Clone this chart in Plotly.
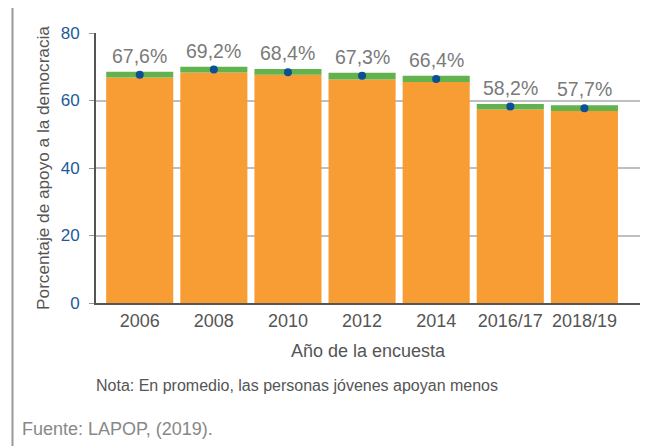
import plotly.graph_objects as go

years = ["2006", "2008", "2010", "2012", "2014", "2016/17", "2018/19"]
mean_vals = [67.6, 69.2, 68.4, 67.3, 66.4, 58.2, 57.7]
ci_low = [66.8, 68.3, 67.6, 66.2, 65.5, 57.3, 56.9]
ci_high = [68.5, 70.0, 69.3, 68.2, 67.3, 59.0, 58.6]
labels = ["67,6%", "69,2%", "68,4%", "67,3%", "66,4%", "58,2%", "57,7%"]
y_ticks = [0, 20, 40, 60, 80]

FONT = "Liberation Sans, Arial, sans-serif"

fig = go.Figure()

# orange bar up to lower CI
fig.add_trace(go.Bar(x=years, y=ci_low, marker=dict(color="#F79D34", line_width=0),
                     hoverinfo="skip"))
# green band for the interval
fig.add_trace(go.Bar(x=years, y=[h - l for h, l in zip(ci_high, ci_low)], base=ci_low,
                     marker=dict(color="#62B24D", line_width=0), hoverinfo="skip"))
# mean dots
fig.add_trace(go.Scatter(x=years, y=mean_vals, mode="markers",
                         marker=dict(color="#0D4F94", size=8)))

# value labels above each bar (category index, since "2006" would be read as a number)
for i, (top, lab) in enumerate(zip(ci_high, labels)):
    fig.add_annotation(x=i, y=top, text=lab, showarrow=False, yanchor="bottom", yshift=3,
                       font=dict(size=19.5, color="#7A7A7A", family=FONT))

# page body adds 8px around the plot, so size/margins are reduced by that
fig.update_layout(
    width=647, height=438,
    margin=dict(l=88, r=15, t=25, b=143),
    barmode="overlay", bargap=0.095,
    showlegend=False,
    plot_bgcolor="white", paper_bgcolor="white",
    font=dict(family=FONT, color="#555555"),
)

fig.update_xaxes(
    type="category", range=[-0.59, 6.75], automargin=False,
    showline=True, linecolor="#555555", linewidth=2,
    ticks="", tickfont=dict(size=18, color="#555555"),
    title=dict(text="Año de la encuesta", font=dict(size=18, color="#555555"), standoff=15),
)
fig.update_yaxes(
    range=[0, 80], tickvals=y_ticks, automargin=False,
    showline=True, linecolor="#555555", linewidth=2,
    ticks="outside", ticklen=5, tickcolor="#999999",
    showgrid=True, gridcolor="#BFBFBF", gridwidth=1.5,
    tickfont=dict(size=17, color="#1B5B9B"),
    ticklabelstandoff=6,
    title=dict(text="Porcentaje de apoyo a la democracia",
               font=dict(size=17.2, color="#555555"), standoff=7),
)

# frame lines at the sides of the figure
fig.add_shape(type="line", xref="paper", yref="paper", x0=-0.1535, x1=-0.1535, y0=1.2, y1=-0.6,
              line=dict(color="#999999", width=2))
fig.add_shape(type="line", xref="paper", yref="paper", x0=1.023, x1=1.023, y0=1.2, y1=-0.6,
              line=dict(color="#888888", width=3))

fig.add_annotation(text="Nota: En promedio, las personas jóvenes apoyan menos",
                   xref="paper", yref="paper", x=-0.003, y=-0.305, xanchor="left", yanchor="middle",
                   showarrow=False, font=dict(size=16, color="#555555"))
fig.add_annotation(text="Fuente: LAPOP, (2019).",
                   xref="paper", yref="paper", x=-0.139, y=-0.465, xanchor="left", yanchor="middle",
                   showarrow=False, font=dict(size=18, color="#888888"))

fig.write_html("out.html")
